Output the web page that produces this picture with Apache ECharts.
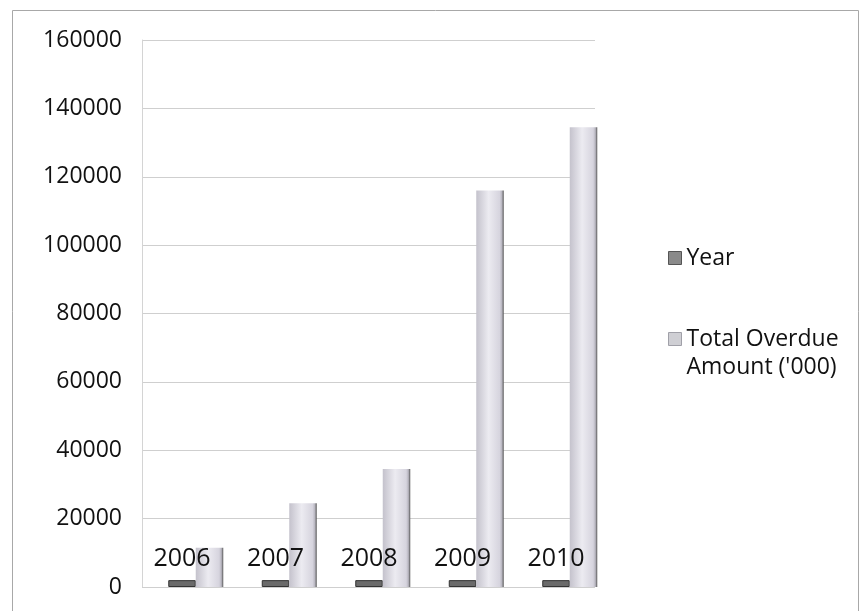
<!DOCTYPE html>
<html>
<head>
<meta charset="utf-8">
<script src="https://cdn.jsdelivr.net/npm/echarts@6/dist/echarts.min.js"></script>
<style>html,body{margin:0;padding:0;background:#fff}#c{width:861px;height:611px}</style>
</head>
<body>
<div id="c"></div>
<script>
const categories = ['2006', '2007', '2008', '2009', '2010'];
const yearValues = [2006, 2007, 2008, 2009, 2010];
const overdueValues = [11500, 24500, 34500, 116000, 134500];
const seriesNames = ['Year', "Total Overdue Amount ('000)"];

const FONT = 'Open Sans';
const chart = echarts.init(document.getElementById('c'), null, {renderer: 'canvas'});
chart.setOption({
  animation: false,
  backgroundColor: '#ffffff',
  graphic: [{
    type: 'rect', left: 10, top: 8, shape: {width: 846, height: 640},
    style: {fill: 'none', stroke: '#a8a8a8', lineWidth: 1}, silent: true
  }],
  legend: [{
    data: [{name: seriesNames[0], itemStyle: {color: '#8a8a8a', borderColor: '#555', borderWidth: 1}}],
    orient: 'vertical', left: 663, top: 239,
    itemWidth: 13, itemHeight: 13, icon: 'rect',
    textStyle: {fontFamily: FONT, fontSize: 23, color: '#111', lineHeight: 28}
  }, {
    data: [{name: seriesNames[1], itemStyle: {color: '#cfcfd4', borderColor: '#a0a0a8', borderWidth: 1}}],
    orient: 'vertical', left: 663, top: 292,
    itemWidth: 13, itemHeight: 13, icon: 'rect',
    formatter: function (n) { return "\nTotal Overdue\nAmount ('000)"; },
    textStyle: {fontFamily: FONT, fontSize: 23, color: '#111', lineHeight: 28}
  }],
  grid: [
    {left: 142, right: 266, top: 40, bottom: 24},
    {left: 149, right: 244.5, top: 40, bottom: 24}
  ],
  xAxis: [
    {gridIndex: 0, type: 'category', data: categories, show: false},
    {gridIndex: 1, type: 'category', data: categories,
     axisLine: {show: false}, axisTick: {show: false}, axisLabel: {show: false}}
  ],
  yAxis: [
    {gridIndex: 0, type: 'value', min: 0, max: 160000, interval: 20000,
     axisLine: {show: true, lineStyle: {color: '#d4d4d4'}}, axisTick: {show: false},
     axisLabel: {fontFamily: FONT, fontSize: 23, color: '#111', margin: 20,
                 formatter: function (v) { return String(v); }},
     splitLine: {lineStyle: {color: '#cfcfcf', width: 1}}},
    {gridIndex: 1, type: 'value', min: 0, max: 160000, interval: 20000, show: false,
     splitLine: {show: false}}
  ],
  series: [{
    name: seriesNames[0], type: 'bar', xAxisIndex: 1, yAxisIndex: 1,
    data: yearValues, barWidth: 27.5, barGap: '0%',
    itemStyle: {color: '#6a6a6a', borderColor: '#333', borderWidth: 1},
    label: {show: true, position: 'top', distance: 9,
            fontFamily: FONT, fontSize: 25, color: '#111'}
  }, {
    name: seriesNames[1], type: 'bar', xAxisIndex: 1, yAxisIndex: 1,
    data: overdueValues, barWidth: 27.5, barGap: '0%',
    itemStyle: {
      color: {type: 'linear', x: 0, y: 0, x2: 1, y2: 0, colorStops: [
        {offset: 0, color: '#c4c2cc'},
        {offset: 0.45, color: '#ecebf1'},
        {offset: 0.85, color: '#d6d4de'},
        {offset: 0.93, color: '#b8b6c0'},
        {offset: 1, color: '#555'}
      ]}
    }
  }]
});
</script>
</body>
</html>
